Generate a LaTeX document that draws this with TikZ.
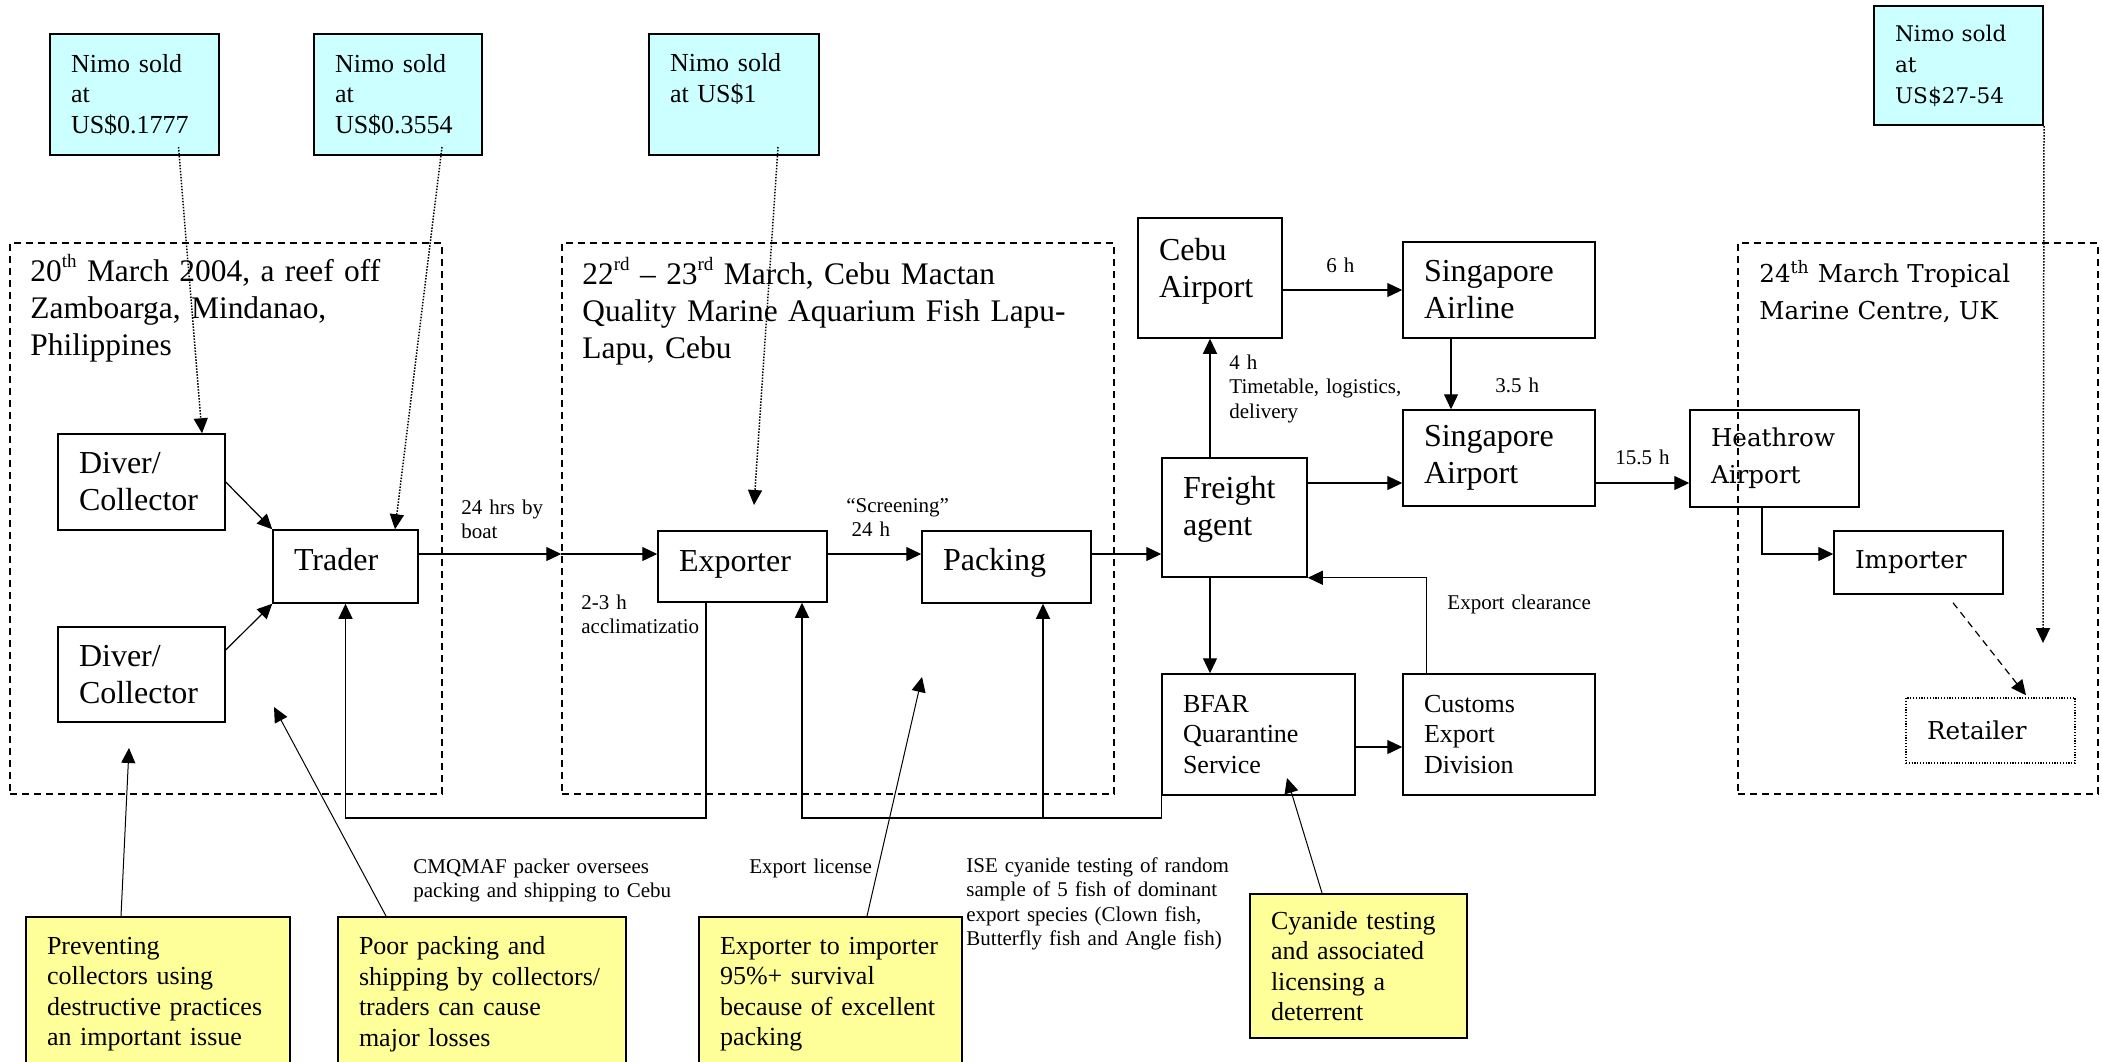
\documentclass[tikz,border=0pt]{standalone}
\usepackage{fontspec}
\setmainfont{Liberation Serif}
\newfontfamily\ukfont{DejaVu Serif}
\usepackage{tikz}
\usetikzlibrary{arrows.meta,calc}

\definecolor{nimoblue}{HTML}{CCFFFF}
\definecolor{noteyellow}{HTML}{FFFF99}
\newcommand{\fbig}{\fontsize{16pt}{18.5pt}\selectfont}
\newcommand{\ftitle}{\fontsize{15.7pt}{18.5pt}\selectfont}
\newcommand{\fmid}{\fontsize{13pt}{15.25pt}\selectfont}
\newcommand{\fsmall}{\fontsize{10.5pt}{12.3pt}\selectfont}
\newcommand{\fuk}{\ukfont\fontsize{12.3pt}{18.5pt}\selectfont}
\newcommand{\fukprice}{\ukfont\fontsize{10.8pt}{15.5pt}\selectfont}
\newcommand{\lowpad}[1]{\rule[-#1]{0pt}{#1}}
\newcommand{\upidx}[1]{\raisebox{0.42em}{\fontsize{9.5pt}{9.5pt}\selectfont #1}}

\tikzset{
  box/.style={draw, line width=0.75pt, align=left, inner xsep=10.5pt, inner ysep=0pt, font=\fbig},
  price/.style={box, fill=nimoblue, line width=1pt, font=\fmid},
  note/.style={box, fill=noteyellow, line width=1pt, font=\fmid},
  site/.style={draw, line width=0.75pt, dash pattern=on 3.5pt off 2.5pt, inner sep=0pt},
  lbl/.style={anchor=base west, inner sep=0pt, align=left, text width=200pt, font=\fsmall},
  ttl/.style={anchor=base west, inner sep=0pt, align=left, text width=300pt, font=\ftitle},
  arr/.style={line width=0.6pt, -{Triangle[length=7.5pt,width=7pt]}},
  dots/.style={arr, line width=0.75pt, dash pattern=on 0.75pt off 0.75pt},
  dotline/.style={dash pattern=on 0.6pt off 0.8pt},
  ann/.style={arr, line width=0.5pt},
}

\begin{document}
\begin{tikzpicture}[x=0.5pt,y=-0.5pt]
			\useasboundingbox (0,0) rectangle (2102,1061);
			\clip (0,0) rectangle (2102,1061);
			% places
			\node (siteA) at (226,518.5) [site, minimum width=216pt, minimum height=275.5pt] {};
			\node (siteB) at (838,518.5) [site, minimum width=276pt, minimum height=275.5pt] {};
			\node (siteC) at (1918,518.5) [site, minimum width=180pt, minimum height=275.5pt] {};
			\node (ttlA) at (30,281) [ttl] {20\upidx{th} March 2004, a reef off\\Zamboarga, Mindanao,\\Philippines};
			\node (ttlB) at (582,284) [ttl] {22\upidx{rd} -- 23\upidx{rd} March, Cebu Mactan\\Quality Marine Aquarium Fish Lapu-\\Lapu, Cebu};
			\node (ttlC) at (1759,282) [ttl, font=\fuk] {24\textsuperscript{th} March Tropical\\Marine Centre, UK};
			% prices
			\node (nimoA) at (134.5,94.5) [price, minimum height=60.5pt, text width=63.5pt] {Nimo sold\\at\\US\$0.1777};
			\node (nimoB) at (398,94.5) [price, minimum height=60.5pt, text width=63pt] {Nimo sold\\at\\US\$0.3554};
			\node (nimoC) at (734,94.5) [price, minimum height=60.5pt, text width=64pt] {Nimo sold\\at US\$1\lowpad{16.3pt}};
			\node (nimoD) at (1958.5,65.5) [price, minimum height=59.5pt, text width=63.5pt, font=\fukprice] {Nimo sold\\at\\US\$27-54};
			% chain
			\node (diverA) at (141.5,482) [box, minimum height=48pt, text width=62.5pt] {Diver/\\Collector};
			\node (diverB) at (141.5,674.5) [box, minimum height=47.5pt, text width=62.5pt] {Diver/\\Collector};
			\node (trader) at (345.5,566.5) [box, minimum height=36.5pt, text width=51.5pt] {Trader\lowpad{6.7pt}};
			\node (exporter) at (742.5,566.5) [box, minimum height=35.5pt, text width=63.5pt] {Exporter\lowpad{5.3pt}};
			\node (packing) at (1006.5,567) [box, minimum height=36pt, text width=63.5pt] {Packing\lowpad{7.3pt}};
			\node (cebu) at (1210,278) [box, minimum height=60pt, text width=51pt] {Cebu\\Airport\lowpad{9.9pt}};
			\node (sgAirline) at (1499,290) [box, minimum height=48pt, text width=75pt] {Singapore\\Airline};
			\node (sgAirport) at (1499,458) [box, minimum height=48pt, text width=75pt] {Singapore\\Airport};
			\node (freight) at (1234.5,517.5) [box, minimum height=59.5pt, text width=51.5pt] {Freight\\agent\lowpad{11.4pt}};
			\node (bfar) at (1258.5,734.5) [box, minimum height=60.5pt, text width=75.5pt, font=\fmid] {BFAR\\Quarantine\\Service};
			\node (customs) at (1499,734.5) [box, minimum height=60.5pt, text width=75pt, font=\fmid] {Customs\\Export\\Division};
			\node (heathrow) at (1774.5,458.5) [box, minimum height=48.5pt, text width=63.5pt, font=\fuk] {Heathrow\\Airport};
			\node (importer) at (1918.5,562.5) [box, minimum height=31.5pt, text width=63.5pt, font=\fuk] {Importer};
			\node (retailer) at (1990.5,730.5) [box, dotline, minimum height=32.5pt, text width=63.5pt, font=\fuk] {Retailer};
			% notes
			\node (noteA) at (158,994) [note, minimum height=77pt, text width=111pt] {Preventing\\collectors using\\destructive practices\\an important issue};
			\node (noteB) at (482,994) [note, minimum height=77pt, text width=123pt] {Poor packing and\\shipping by collectors/\\traders can cause\\major losses};
			\node (noteC) at (830.5,994) [note, minimum height=77pt, text width=110.5pt] {Exporter to importer\\95\%+ survival\\because of excellent\\packing};
			\node (cyanide) at (1358.5,966) [note, minimum height=72pt, text width=87.5pt] {Cyanide testing\\and associated\\licensing a\\deterrent};
			% labels
			\node (boatLbl) at (461,514) [lbl] {24 hrs by\\boat};
			\node (acclLbl) at (581,609) [lbl] {2-3 h\\acclimatizatio};
			\node (screenLbl) at (846,512) [lbl] {``Screening''\\\hspace*{2.6pt}24 h};
			\node (sixLbl) at (1326,272) [lbl] {6 h};
			\node (fourLbl) at (1229,369) [lbl] {4 h\\Timetable, logistics,\\delivery};
			\node (threeLbl) at (1495,392) [lbl] {3.5 h};
			\node (fifteenLbl) at (1615,464) [lbl] {15.5 h};
			\node (clearLbl) at (1447,609) [lbl] {Export clearance};
			\node (cmqLbl) at (413,873) [lbl] {CMQMAF packer oversees\\packing and shipping to Cebu};
			\node (licLbl) at (749,873) [lbl] {Export license};
			\node (iseLbl) at (966,872) [lbl] {ISE cyanide testing of random\\sample of 5 fish of dominant\\export species (Clown fish,\\Butterfly fish and Angle fish)};
			% free ends
			\coordinate (row) at (0,554);
			\coordinate (row2) at (0,483);
			\coordinate (low) at (0,818);
			\coordinate (tipA) at (129,748);
			\coordinate (tipB) at (274,707);
			\coordinate (tipC) at (922,677);
			\coordinate (tipD) at (1287,778);
			\coordinate (tipE) at (754,505);
			\coordinate (tipF) at (2043,643);
			% price links
			\draw[dots] ([xshift=22pt,yshift=4.5pt]nimoA.south) -- ([xshift=30.25pt]diverA.north);
			\draw[dots] ([xshift=22pt,yshift=4.5pt]nimoB.south) -- ([xshift=24.75pt]trader.north);
			\draw[dots] ([xshift=22pt,yshift=4.5pt]nimoC.south) -- (tipE);
			\draw[dots] (nimoD.south east) -- (tipF);
			% flow
			\draw[arr] (diverA.east) -- (trader.north west);
			\draw[arr] ([yshift=12.25pt]diverB.east) -- (trader.south west);
			\draw[arr] (trader.east |- row) -- (siteB.west |- row);
			\draw[arr] (siteB.west |- row) -- (exporter.west |- row);
			\draw[arr] (exporter.east |- row) -- (packing.west |- row);
			\draw[arr] (packing.east |- row) -- (freight.west |- row);
			\draw[arr] ([xshift=-18.25pt]exporter.south) |- (trader.south |- low) -- (trader.south);
			\draw[arr] (bfar.south west) |- ([xshift=29.75pt]exporter.south |- low) -- ([xshift=29.75pt]exporter.south);
			\draw[arr] ([xshift=18.25pt]packing.south |- low) -- ([xshift=18.25pt]packing.south);
			\draw[arr] (freight.north -| cebu.south) -- (cebu.south);
			\draw[arr] (cebu.east |- sgAirline.west) -- (sgAirline.west);
			\draw[arr] ([xshift=-24pt]sgAirline.south) -- ([xshift=-24pt]sgAirport.north);
			\draw[arr] (freight.east |- row2) -- (sgAirport.west |- row2);
			\draw[arr] (sgAirport.east |- row2) -- (heathrow.west |- row2);
			\draw[arr] ([xshift=-6.25pt]heathrow.south) |- (importer.west |- row);
			\draw[arr, dash pattern=on 3.5pt off 2.5pt] ([xshift=17.25pt,yshift=-4pt]importer.south) -- ([xshift=17.75pt,yshift=1pt]retailer.north);
			\draw[arr] (freight.south -| cebu.south) -- (cebu.south |- bfar.north);
			\draw[arr] ([yshift=-6.25pt]bfar.east) -- ([yshift=-6.25pt]bfar.east -| customs.west);
			\draw[arr] ([xshift=12pt]customs.north west) |- (freight.south east);
			% notes to chain
			\draw[ann] ([xshift=-18.5pt]noteA.north) -- (tipA);
			\draw[ann] ([xshift=-48pt]noteB.north) -- (tipB);
			\draw[ann] ([xshift=18.25pt]noteC.north) -- (tipC);
			\draw[ann] ([xshift=-18.25pt]cyanide.north) -- (tipD);
		\end{tikzpicture}
\end{document}
